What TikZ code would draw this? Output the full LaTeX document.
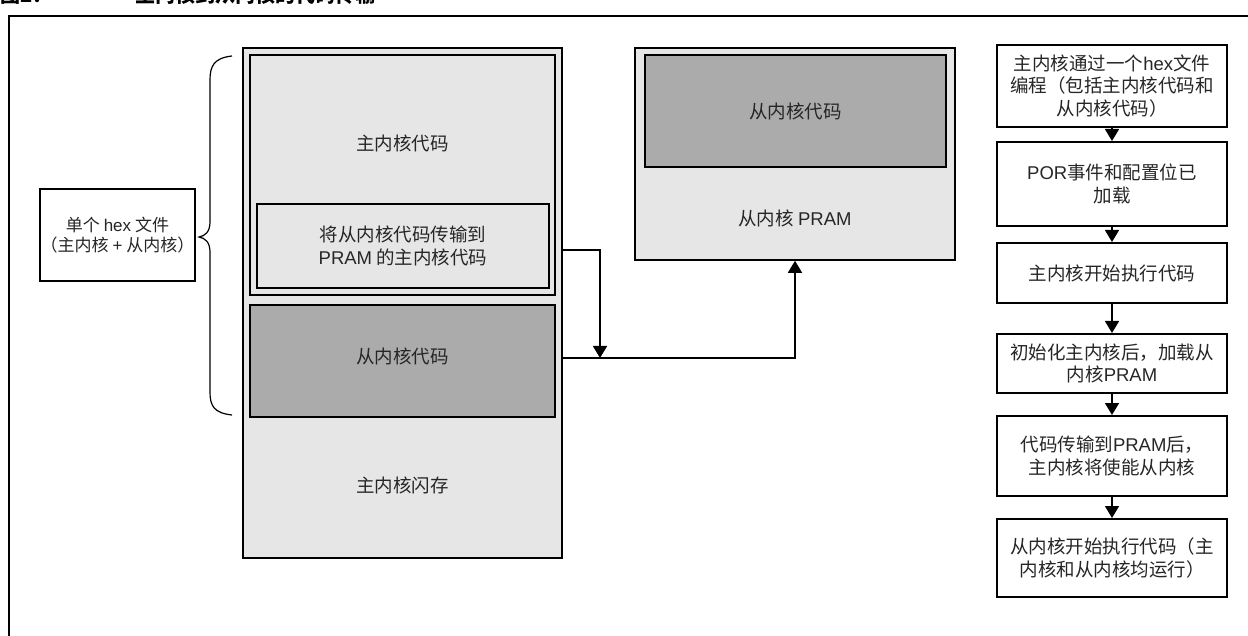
\documentclass[tikz,border=0pt]{standalone}
\usepackage{fontspec}
\setmainfont{Noto Sans CJK SC}
\newfontfamily\lat{Liberation Sans}
\usetikzlibrary{arrows.meta}
\definecolor{lightg}{HTML}{E6E6E6}
\definecolor{darkg}{HTML}{ABABAB}
\definecolor{txt}{HTML}{262626}
\begin{document}
\begin{tikzpicture}[x=1pt,y=-1pt,
  every node/.style={inner sep=0pt, font=\fontsize{18.5}{22.5}\selectfont, text=txt, align=center},
  mem/.style={draw=black, line width=1.6pt, fill=lightg},
  memdark/.style={draw=black, line width=1.6pt, fill=darkg},
  flowbox/.style={draw=black, line width=2pt, fill=white, minimum width=230pt},
  plainbox/.style={draw=black, line width=1.6pt, fill=white},
  arr/.style={line width=1.6pt, -{Triangle[width=14pt,length=12pt]}},
  lbl/.style={}]
\useasboundingbox (0,0) rectangle (1248,636);
\clip (0,0) rectangle (1248,636);
% title (cut off at top in the reference)
\node[anchor=base west, font=\bfseries\fontsize{20}{22}\selectfont, text=black] (ttl1) at (0,3) {图2：};
\node[anchor=base west, font=\bfseries\fontsize{20}{22}\selectfont, text=black] (ttl2) at (135,3) {主内核到从内核的代码传输};
% outer frame
\draw[line width=2pt] (9,640) -- (9,16) -- (1260,16);
% hex box
\node[plainbox, minimum width=155pt, minimum height=92pt, font=\fontsize{17}{20}\selectfont] (hex) at (117.5,235) {单个 {\lat hex} 文件\\（主内核 {\lat +} 从内核）};
% brace
\draw[line width=1.2pt] (232,56) .. controls (214,58) and (210,66) .. (210,80)
  -- (210,222) .. controls (210,232) and (205,236) .. (199,237)
  .. controls (205,238) and (210,242) .. (210,252)
  -- (210,392) .. controls (210,406) and (214,413) .. (232,415);
% main memory
\node[mem, minimum width=319pt, minimum height=510pt] (flash) at (402.5,303) {};
\node[lbl] (flashl) at (402.5,485) {主内核闪存};
\node[mem, minimum width=305pt, minimum height=240pt] (mcode) at (402.5,175) {};
\node[lbl] (mcodel) at (402.5,143) {主内核代码};
\node[mem, minimum width=292pt, minimum height=84pt] (xfer) at (403,246) {将从内核代码传输到\\{\lat PRAM} 的主内核代码};
\node[memdark, minimum width=305pt, minimum height=112pt] (scode) at (402.5,361) {};
\node[lbl] (scodel) at (402.5,356) {从内核代码};
% PRAM
\node[mem, minimum width=320pt, minimum height=212pt] (pram) at (795,154) {};
\node[memdark, minimum width=301pt, minimum height=112pt] (pcode) at (795.5,111) {从内核代码};
\node[lbl] (praml) at (795,218) {从内核 {\lat PRAM}};
% connectors
\coordinate (bus) at (600,358);
\draw[arr] (flash.east |- 0,250) -| (bus);
\draw[arr] (flash.east |- bus) -| (pram.south);
% flowchart
\node[flowbox, minimum height=82pt] (f1) at (1112,86) {主内核通过一个{\lat hex}文件\\编程（包括主内核代码和\\从内核代码）};
\node[flowbox, minimum height=84pt] (f2) at (1112,184) {{\lat POR}事件和配置位已\\加载};
\node[flowbox, minimum height=60pt] (f3) at (1112,273) {主内核开始执行代码};
\node[flowbox, minimum height=59pt] (f4) at (1112,363.5) {初始化主内核后，加载从\\内核{\lat PRAM}};
\node[flowbox, minimum height=80pt] (f5) at (1112,456) {代码传输到{\lat PRAM}后，\\主内核将使能从内核};
\node[flowbox, minimum height=78pt] (f6) at (1112,558) {从内核开始执行代码（主\\内核和从内核均运行）};
\foreach \a/\b in {f1/f2,f2/f3,f3/f4,f4/f5,f5/f6}
  \draw[arr] (\a.south) -- (\b.north);
\end{tikzpicture}
\end{document}
